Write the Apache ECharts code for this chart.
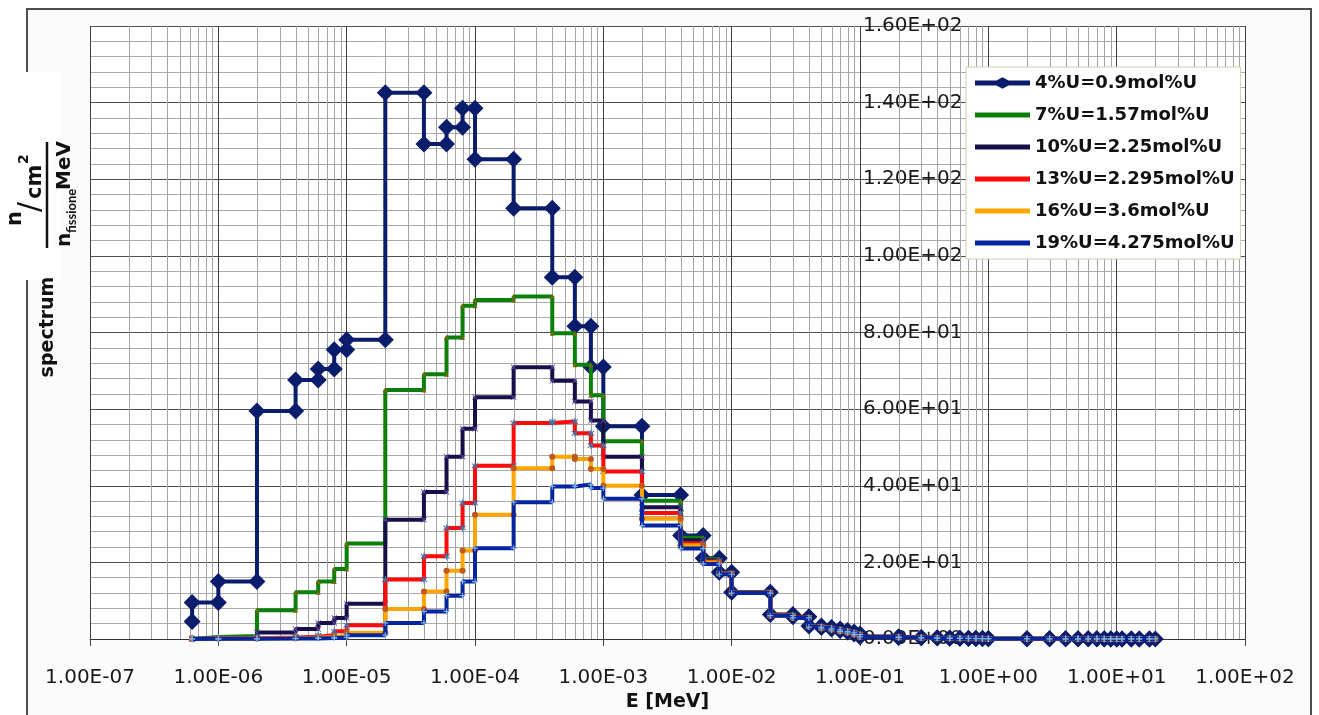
<!DOCTYPE html>
<html><head><meta charset="utf-8">
<script src="https://cdn.jsdelivr.net/npm/echarts@6/dist/echarts.min.js"></script>
<style>
html,body{margin:0;padding:0;background:#fff;overflow:hidden;}
#frame{position:absolute;left:26px;top:8px;width:1286px;height:730px;border:2px solid #4d4d4d;background:#fbfbfb;box-sizing:border-box;}
#chart{position:absolute;left:0;top:0;width:1319px;height:715px;}
</style></head><body>
<div id="frame"></div><div id="chart"></div>
<script>
// Energy bin edges [MeV]
const energyEdges = [6.25e-7, 1e-6, 2e-6, 4e-6, 6e-6, 8e-6, 1e-5, 2e-5, 4e-5, 6e-5, 8e-5,
  1e-4, 2e-4, 4e-4, 6e-4, 8e-4, 1e-3, 2e-3, 4e-3, 6e-3, 8e-3, 1e-2, 2e-2, 3e-2, 4e-2, 5e-2,
  6e-2, 7e-2, 8e-2, 9e-2, 0.1, 0.2, 0.3, 0.4, 0.5, 0.6, 0.7, 0.8, 0.9, 1, 2, 3, 4, 5, 6, 7,
  8, 9, 10, 11, 13, 15, 18, 20];

const seriesNames = ['4%U=0.9mol%U', '7%U=1.57mol%U', '10%U=2.25mol%U',
  '13%U=2.295mol%U', '16%U=3.6mol%U', '19%U=4.275mol%U'];

// value of the (unplotted) level just before the first edge
const leadIn = [4.6, 0, 0, 0, 0, 0];

// spectrum per bin
const spec4U = [9.5, 15.0, 59.5, 67.6, 70.5, 75.5, 78.1, 142.6, 129.2, 133.6, 138.5, 125.2, 112.4,
  94.4, 81.6, 71.0, 55.5, 37.6, 27.0, 21.1, 17.4, 12.2, 6.4, 5.8, 3.4, 3.0, 2.6, 2.2, 1.8, 1.3,
  0.6, 0.4, 0.3, 0.25, 0.2, 0.18, 0.15, 0.12, 0.1, 0.08, 0.06, 0.05, 0.05, 0.04, 0.04, 0.04,
  0.03, 0.03, 0.03, 0.02, 0.02, 0.02, 0.01];
const spec7U = [0.5, 0.8, 7.5, 12.2, 15.0, 18.3, 24.9, 65.0, 69.1, 78.7, 87.0, 88.5, 89.4,
  79.8, 71.6, 63.6, 51.6, 36.1, 26.4, 20.8, 17.3, 12.2, 6.3, 5.7, 3.3, 2.9, 2.5, 2.1, 1.7, 1.25,
  0.58, 0.38, 0.29, 0.24, 0.19, 0.17, 0.14, 0.11, 0.1, 0.08, 0.06, 0.05, 0.05, 0.04, 0.04, 0.04,
  0.03, 0.03, 0.03, 0.02, 0.02, 0.02, 0.01];
const spec10U = [0.2, 0.3, 1.7, 2.6, 4.2, 5.5, 9.2, 31.1, 38.4, 47.6, 54.9, 63.1, 70.9,
  67.4, 62.0, 57.0, 47.6, 34.4, 25.8, 20.5, 17.2, 12.2, 6.2, 5.6, 3.3, 2.9, 2.5, 2.1, 1.7, 1.2,
  0.57, 0.37, 0.28, 0.23, 0.19, 0.17, 0.14, 0.11, 0.09, 0.07, 0.06, 0.05, 0.05, 0.04, 0.04, 0.04,
  0.03, 0.03, 0.03, 0.02, 0.02, 0.02, 0.01];
const spec13U = [0.1, 0.2, 0.4, 0.6, 1.0, 2.0, 3.6, 15.5, 21.6, 29.0, 35.5, 45.2, 56.4,
  56.8, 53.7, 50.5, 43.7, 32.9, 25.0, 20.2, 17.1, 12.1, 6.2, 5.6, 3.2, 2.8, 2.4, 2.0, 1.7, 1.2,
  0.56, 0.37, 0.28, 0.23, 0.19, 0.16, 0.14, 0.11, 0.09, 0.07, 0.06, 0.05, 0.05, 0.04, 0.04, 0.04,
  0.03, 0.03, 0.03, 0.02, 0.02, 0.02, 0.01];
const spec16U = [0.1, 0.1, 0.2, 0.3, 0.5, 0.8, 1.6, 7.8, 12.4, 17.8, 23.1, 32.4, 44.6,
  47.6, 47.0, 44.4, 40.0, 31.4, 24.5, 20.0, 17.0, 12.1, 6.1, 5.5, 3.2, 2.8, 2.4, 2.0, 1.6, 1.2,
  0.55, 0.36, 0.27, 0.22, 0.18, 0.16, 0.13, 0.11, 0.09, 0.07, 0.06, 0.05, 0.05, 0.04, 0.04, 0.04,
  0.03, 0.03, 0.03, 0.02, 0.02, 0.02, 0.01];
const spec19U = [0.05, 0.05, 0.1, 0.15, 0.25, 0.4, 1.0, 4.2, 7.2, 11.3, 15.0, 23.7, 35.7,
  39.8, 40.3, 39.4, 36.6, 29.6, 23.6, 19.6, 16.9, 12.0, 6.1, 5.5, 3.1, 2.8, 2.4, 2.0, 1.6, 1.15,
  0.55, 0.36, 0.27, 0.22, 0.18, 0.16, 0.13, 0.11, 0.09, 0.07, 0.06, 0.05, 0.05, 0.04, 0.04, 0.04,
  0.03, 0.03, 0.03, 0.02, 0.02, 0.02, 0.01];

const xTicksMin = 1e-7, xTicksMax = 100;
const yMin = 0, yMax = 160, yStep = 20;

const allSpec = [spec4U, spec7U, spec10U, spec13U, spec16U, spec19U];
const lineColors = ['#0a1c6c', '#0a800a', '#15104a', '#ff0a0a', '#ffa500', '#0525a0'];
const markColors = ['#0a1c6c', '#6a6a10', '#6a4a9a', '#3a7ab0', '#c0581a', '#7fb0e0'];
const markSymbols = ['diamond', 'triangle',
  'path://M0,1L1,0L5,4L9,0L10,1L6,5L10,9L9,10L5,6L1,10L0,9L4,5Z',
  'path://M4.3,0H5.7V4L8.5,1.2L9.5,2.2L6.5,5L9.5,7.8L8.5,8.8L5.7,6V10H4.3V6L1.5,8.8L0.5,7.8L3.5,5L0.5,2.2L1.5,1.2L4.3,4Z',
  'circle', 'path://M4,0H6V4H10V6H6V10H4V6H0V4H4Z'];
const markSizes = [17, 5, 6, 7, 6, 6];

function steps(lead, vals) {
  const pts = [[energyEdges[0], lead]];
  vals.forEach((v, i) => { pts.push([energyEdges[i], v]); pts.push([energyEdges[i + 1], v]); });
  return pts;
}
function sci(v) {
  const s = Number(v).toExponential(2).toUpperCase();
  const parts = s.split('E');
  const n = parseInt(parts[1], 10);
  return parts[0] + 'E' + (n < 0 ? '-' : '+') + String(Math.abs(n)).padStart(2, '0');
}
// minor log grid positions 2..9 x 10^d
const minorX = [];
for (let d = -7; d <= 1; d++) for (let k = 2; k <= 9; k++) minorX.push(k * Math.pow(10, d));

const barIcon = 'path://M0,0M55,12M0,3.6H55V8.4H0Z';
const diamondIcon = 'path://M0,0M55,12M0,3.6H21.5L27.5,0.3L33.5,3.6H55V8.4H33.5L27.5,11.7L21.5,8.4H0Z';

const series = allSpec.map((vals, i) => ({
  name: seriesNames[i], type: 'line', data: steps(leadIn[i], vals),
  symbol: markSymbols[i], symbolSize: markSizes[i], showSymbol: true,
  lineStyle: { width: 4, color: lineColors[i] },
  itemStyle: { color: markColors[i], borderWidth: 0 },
  z: 3 + i, animation: false, silent: true
}));
series.unshift({
  name: '_minorgrid', type: 'custom', silent: true, animation: false, z: 1, clip: false,
  data: minorX.map(v => [v, yMin]),
  encode: { x: 0, y: 1 },
  renderItem: function (params, api) {
    const x = api.value(0);
    const p0 = api.coord([x, yMin]);
    const p1 = api.coord([x, yMax]);
    const px = Math.round(p0[0]) + 0.5;
    return { type: 'line', silent: true,
      shape: { x1: px, y1: p0[1], x2: px, y2: p1[1] },
      style: { stroke: '#a3a3a3', lineWidth: 1 } };
  }
});

const chart = echarts.init(document.getElementById('chart'), null, { renderer: 'canvas' });
chart.setOption({
  backgroundColor: 'transparent',
  animation: false,
  grid: { left: 90, top: 26, width: 1155, height: 613, show: true, backgroundColor: '#ffffff', borderWidth: 0,
    containLabel: false, outerBoundsMode: 'none' },
  xAxis: {
    type: 'log', logBase: 10, min: xTicksMin, max: xTicksMax,
    name: 'E [MeV]', nameLocation: 'middle', nameGap: 52,
    nameTextStyle: { fontFamily: 'DejaVu Sans', fontWeight: 'bold', fontSize: 19, color: '#111' },
    axisLine: { lineStyle: { color: '#333', width: 1 } },
    axisTick: { show: true, length: 7, lineStyle: { color: '#444' } },
    axisLabel: { formatter: sci, margin: 29, fontFamily: 'DejaVu Sans', fontSize: 20, color: '#1a1a1a' },
    splitLine: { show: true, lineStyle: { color: '#3f3f3f', width: 1 } },
    minorTick: { show: false }, minorSplitLine: { show: false }
  },
  yAxis: {
    type: 'value', min: yMin, max: yMax, interval: yStep, position: 'left', offset: -770,
    axisLine: { show: false }, axisTick: { show: false },
    axisLabel: { inside: true, margin: 3, formatter: sci, fontFamily: 'DejaVu Sans', fontSize: 20, color: '#1a1a1a' },
    splitLine: { show: true, lineStyle: { color: '#4f4f4f', width: 1 } },
    minorTick: { show: false, splitNumber: 5 },
    minorSplitLine: { show: true, lineStyle: { color: '#ababab', width: 1 } }
  },
  legend: {
    orient: 'vertical', left: 966, top: 67, padding: [7, 6, 7, 9],
    itemWidth: 55, itemHeight: 12, itemGap: 14,
    backgroundColor: '#ffffff', borderColor: '#c6cfae', borderWidth: 1,
    symbolKeepAspect: false, selectedMode: false,
    itemStyle: { borderWidth: 0 },
    textStyle: { fontFamily: 'DejaVu Sans', fontWeight: 'bold', fontSize: 18, color: '#111' },
    data: seriesNames.map((n, i) => ({ name: n, icon: i === 0 ? diamondIcon : barIcon, itemStyle: { color: lineColors[i], borderWidth: 0 } }))
  },
  graphic: [
    { type: 'rect', shape: { x: 0, y: 72, width: 60, height: 208 }, style: { fill: '#ffffff' }, silent: true },
    { type: 'text', x: 48, y: 327, rotation: Math.PI / 2, silent: true,
      style: { text: 'spectrum', font: 'bold 19px "DejaVu Sans"', fill: '#111', align: 'center', verticalAlign: 'middle' } },
    { type: 'group', x: 0, y: 248, rotation: Math.PI / 2, silent: true, children: [
      { type: 'text', x: 22, y: 16, style: { text: 'n', font: 'bold 21px "DejaVu Sans"', fill: '#111', verticalAlign: 'middle' } },
      { type: 'text', x: 36, y: 31, style: { text: '/', font: '30px "DejaVu Sans"', fill: '#111', verticalAlign: 'middle' } },
      { type: 'text', x: 49, y: 36, style: { text: 'cm', font: 'bold 21px "DejaVu Sans"', fill: '#111', verticalAlign: 'middle' } },
      { type: 'text', x: 84, y: 24, style: { text: '2', font: 'bold 14px "DejaVu Sans"', fill: '#111', verticalAlign: 'middle' } },
      { type: 'line', shape: { x1: 0, y1: 47, x2: 106, y2: 47 }, style: { stroke: '#111', lineWidth: 2.5 } },
      { type: 'text', x: 1, y: 65, style: { text: 'n', font: 'bold 20px "DejaVu Sans"', fill: '#111', verticalAlign: 'middle' } },
      { type: 'text', x: 15, y: 72, style: { text: 'fissione', font: 'bold 13px Lato', fill: '#111', verticalAlign: 'middle' } },
      { type: 'text', x: 58, y: 65, style: { text: 'MeV', font: 'bold 20px "DejaVu Sans"', fill: '#111', verticalAlign: 'middle' } }
    ] }
  ],
  series: series
});
</script>
</body></html>
